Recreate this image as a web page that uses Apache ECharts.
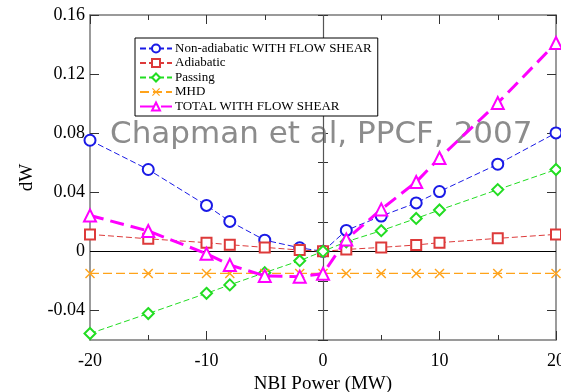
<!DOCTYPE html>
<html>
<head>
<meta charset="utf-8">
<script src="https://cdn.jsdelivr.net/npm/echarts@6/dist/echarts.min.js"></script>
<style>
  html, body { margin: 0; padding: 0; background: #fff; }
  #chart { width: 561px; height: 392px; }
</style>
</head>
<body>
<div id="chart"></div>
<script>
// NBI power scan (MW)
const nbiPower = [-20, -15, -10, -8, -5, -2, 0, 2, 5, 8, 10, 15, 20];

// dW contributions
const nonAdiabatic = [0.0752, 0.0554, 0.0311, 0.0203, 0.0076, 0.0024, 0, 0.0142, 0.0239, 0.0328, 0.0405, 0.059, 0.0802];
const adiabatic    = [0.0115, 0.0085, 0.0059, 0.0045, 0.0027, 0.0009, 0, 0.0013, 0.0027, 0.0043, 0.0059, 0.0088, 0.0115];
const passing      = [-0.0556, -0.0421, -0.0284, -0.0227, -0.0144, -0.0063, 0, 0.0065, 0.014, 0.0223, 0.028, 0.0418, 0.0554];
const mhd          = [-0.0149, -0.0149, -0.0149, -0.0149, -0.0149, -0.0149, -0.0149, -0.0149, -0.0149, -0.0149, -0.0149, -0.0149, -0.0149];
const total        = [0.0243, 0.0138, -0.0016, -0.0092, -0.0166, -0.0171, -0.0152, 0.0081, 0.0284, 0.047, 0.0632, 0.1004, 0.141];

const seriesNames = [
  'Non-adiabatic WITH FLOW SHEAR',
  'Adiabatic',
  'Passing',
  'MHD',
  'TOTAL WITH FLOW SHEAR'
];

// labelled (major) ticks on the dW axis
const yTicks = [-0.04, 0, 0.04, 0.08, 0.12, 0.16];
const xTicks = [-20, -10, 0, 10, 20];

const pair = (ys) => nbiPower.map((x, i) => [x, ys[i]]);

const serif = '"Liberation Serif", "Times New Roman", serif';
const frame = '#7a7a7a';
const tickColor = '#333';
const crossPath = 'path://M0,1L1,0L5,4L9,0L10,1L6,5L10,9L9,10L5,6L1,10L0,9L4,5Z';

function fmtY(v) {
  const r = Math.round(v * 100) / 100;
  if (r === 0) return '0';
  return r.toFixed(2);
}

const chart = echarts.init(document.getElementById('chart'), null, { renderer: 'canvas' });

const lineOn = { show: true, onZero: false, lineStyle: { color: frame, width: 1.5 } };

const xMain = {
  type: 'value', min: -20, max: 20, interval: 10,
  axisLine: lineOn,
  axisTick: { show: true, inside: true, length: 9, lineStyle: { color: tickColor } },
  minorTick: { show: true, splitNumber: 2, length: 5, lineStyle: { color: tickColor } },
  splitLine: { show: false }, minorSplitLine: { show: false }
};

// major dW ticks (labelled on the left)
const yMajor = (pos, labelled) => ({
  type: 'value', position: pos, min: -0.06, max: 0.16,
  axisLine: lineOn,
  axisTick: { show: true, inside: true, length: 9, customValues: yTicks, lineStyle: { color: tickColor } },
  axisLabel: labelled ? {
    show: true, customValues: yTicks,
    fontFamily: serif, fontSize: 18, color: '#000', margin: 5,
    formatter: (v) => fmtY(v)
  } : { show: false },
  splitLine: { show: false }
});

// short ticks every 0.02
const yMinor = (pos) => ({
  type: 'value', position: pos, min: -0.06, max: 0.16, interval: 0.02,
  axisLine: { show: false },
  axisTick: { show: true, inside: true, length: 5, lineStyle: { color: tickColor } },
  axisLabel: { show: false },
  splitLine: { show: false }
});

chart.setOption({
  animation: false,
  backgroundColor: '#fff',
  grid: { left: 90, right: 5, top: 15, bottom: 52, containLabel: false, outerBoundsMode: 'none' },
  xAxis: [
    Object.assign({}, xMain, {
      position: 'bottom',
      name: 'NBI Power (MW)', nameLocation: 'middle', nameGap: 34,
      nameTextStyle: { fontFamily: serif, fontSize: 19, color: '#000' },
      axisLabel: {
        fontFamily: serif, fontSize: 18, color: '#000', margin: 12,
        formatter: (v) => xTicks.includes(v) ? String(v) : ''
      }
    }),
    Object.assign({}, xMain, { position: 'top', axisLabel: { show: false } })
  ],
  yAxis: [
    Object.assign(yMajor('left', true), {
      name: 'dW', nameLocation: 'middle', nameGap: 37, nameRotate: 90,
      nameTextStyle: { fontFamily: serif, fontSize: 19, color: '#000' }
    }),
    yMajor('right', false),
    yMinor('left'),
    yMinor('right')
  ],
  legend: {
    orient: 'vertical',
    left: 135, top: 38,
    padding: [4, 6, 3, 4],
    itemGap: 1.5,
    itemWidth: 32, itemHeight: 10,
    borderColor: '#000', borderWidth: 1,
    backgroundColor: '#fff',
    textStyle: { fontFamily: serif, fontSize: 13, color: '#000', padding: [0, 0, 0, -2] },
    data: seriesNames
  },
  graphic: [
    {
      type: 'text', z: 1,
      x: 110, y: 135,
      style: {
        text: 'Chapman et al, PPCF, 2007',
        fontFamily: '"DejaVu Sans", sans-serif',
        fontSize: 31, fill: '#8c8c8c',
        verticalAlign: 'middle'
      }
    }
  ],
  series: [
    {
      name: seriesNames[0], type: 'line', data: pair(nonAdiabatic), z: 3,
      symbol: 'emptyCircle', symbolSize: 11,
      lineStyle: { color: '#1a1ae6', width: 1, type: [6, 3] },
      itemStyle: { color: '#1a1ae6', borderWidth: 1 },
      markLine: {
        silent: true, symbol: 'none', label: { show: false }, z: 1,
        data: [
          { yAxis: 0, lineStyle: { color: '#000', width: 1, type: 'solid' } },
          { xAxis: 0, lineStyle: { color: '#555', width: 1.2, type: 'solid' } }
        ]
      }
    },
    {
      name: seriesNames[1], type: 'line', data: pair(adiabatic), z: 3,
      symbol: 'emptyRect', symbolSize: 10,
      lineStyle: { color: '#dd3a3a', width: 1, type: [6, 3] },
      itemStyle: { color: '#dd3a3a', borderWidth: 1 }
    },
    {
      name: seriesNames[2], type: 'line', data: pair(passing), z: 3,
      symbol: 'emptyDiamond', symbolSize: 11,
      lineStyle: { color: '#22dd22', width: 1, type: [6, 3] },
      itemStyle: { color: '#22dd22', borderWidth: 1 }
    },
    {
      name: seriesNames[3], type: 'line', data: pair(mhd), z: 3,
      symbol: crossPath, symbolSize: 10,
      lineStyle: { color: '#ffa31a', width: 1.2, type: [9, 4] },
      itemStyle: { color: '#ffa31a', borderWidth: 0 }
    },
    {
      name: seriesNames[4], type: 'line', data: pair(total), z: 4,
      symbol: 'emptyTriangle', symbolSize: 12,
      lineStyle: { color: '#ff00ff', width: 3, type: [14, 7] },
      itemStyle: { color: '#ff00ff', borderWidth: 2.5 }
    }
  ]
});
</script>
</body>
</html>
